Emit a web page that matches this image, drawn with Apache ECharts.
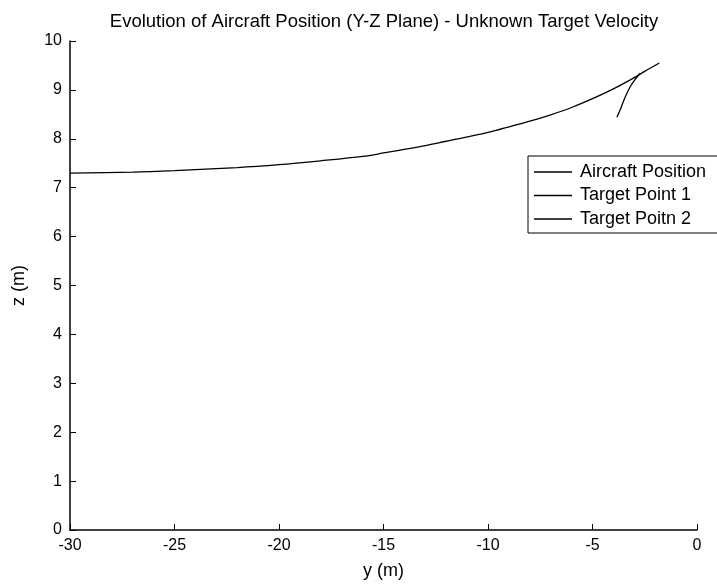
<!DOCTYPE html>
<html><head><meta charset="utf-8">
<script src="https://cdn.jsdelivr.net/npm/echarts@6/dist/echarts.min.js"></script>
<style>html,body{margin:0;padding:0;background:#fff;}#c{width:717px;height:585px;}</style>
</head><body><div id="c"></div>
<script>
const xTicks = [-30, -25, -20, -15, -10, -5, 0];
const yTicks = [0,1,2,3,4,5,6,7,8,9,10];
const aircraftY = [-30, -27, -25, -22, -20, -18, -16, -15, -13, -12, -10, -8, -7, -6, -5, -4, -3, -2.5, -1.8];
const aircraftZ = [7.30, 7.32, 7.35, 7.41, 7.47, 7.55, 7.64, 7.71, 7.86, 7.95, 8.13, 8.36, 8.49, 8.64, 8.82, 9.02, 9.25, 9.38, 9.55];
const target1Y = [-1.8];
const target1Z = [9.55];
const target2Y = [-3.83, -3.65, -3.44, -3.2, -2.95, -2.73];
const target2Z = [8.44, 8.62, 8.85, 9.06, 9.22, 9.34];
const names = ['Aircraft Position', 'Target Point 1', 'Target Poitn 2'];

const zip = (a, b) => a.map((v, i) => [v, b[i]]);
const font = 'Liberation Sans, Arial, sans-serif';
const chart = echarts.init(document.getElementById('c'));
chart.setOption({
  animation: false,
  backgroundColor: '#fff',
  title: {
    text: 'Evolution of Aircraft Position (Y-Z Plane) - Unknown Target Velocity',
    left: 379, top: 7, textAlign: 'center',
    textStyle: {fontFamily: font, fontSize: 18.5, fontWeight: 'normal', color: '#000'}
  },
  legend: {
    data: names.map(n => ({name: n, icon: 'rect'})),
    orient: 'vertical', left: 528, top: 156,
    itemWidth: 38, itemHeight: 1.5, itemGap: 5.5,
    borderColor: '#000', borderWidth: 1, padding: [7, 14, 5, 6],
    backgroundColor: '#fff',
    textStyle: {fontFamily: font, fontSize: 18, color: '#000', padding: [0, 0, 0, 3]}
  },
  grid: {left: 70, right: 20, top: 41, bottom: 54},
  xAxis: {
    type: 'value', min: -30, max: 0, interval: 5,
    name: 'y (m)', nameLocation: 'middle', nameGap: 32,
    nameTextStyle: {fontFamily: font, fontSize: 18, color: '#000'},
    axisLine: {show: true, onZero: false, lineStyle: {color: '#000', width: 1.5}},
    axisTick: {show: true, inside: true, length: 6, lineStyle: {color: '#000'}},
    axisLabel: {fontFamily: font, fontSize: 16, color: '#000', margin: 8,
      formatter: v => xTicks.includes(v) ? String(v) : ''},
    splitLine: {show: false}
  },
  yAxis: {
    type: 'value', min: 0, max: 10, interval: 1,
    name: 'z (m)', nameLocation: 'middle', nameGap: 42, nameRotate: 90,
    nameTextStyle: {fontFamily: font, fontSize: 18, color: '#000'},
    axisLine: {show: true, onZero: false, lineStyle: {color: '#000', width: 1.5}},
    axisTick: {show: true, inside: true, length: 6, lineStyle: {color: '#000'}},
    axisLabel: {fontFamily: font, fontSize: 16, color: '#000', margin: 8,
      formatter: v => yTicks.includes(v) ? String(v) : ''},
    splitLine: {show: false}
  },
  series: [
    {name: names[0], type: 'line', data: zip(aircraftY, aircraftZ), showSymbol: false, smooth: 0.3,
      lineStyle: {color: '#000', width: 1.3}, itemStyle: {color: '#000'}},
    {name: names[1], type: 'line', data: zip(target1Y, target1Z), showSymbol: false,
      lineStyle: {color: '#000', width: 1.3}, itemStyle: {color: '#000'}},
    {name: names[2], type: 'line', data: zip(target2Y, target2Z), showSymbol: false, smooth: 0.3,
      lineStyle: {color: '#000', width: 1.3}, itemStyle: {color: '#000'}}
  ]
});
</script></body></html>
